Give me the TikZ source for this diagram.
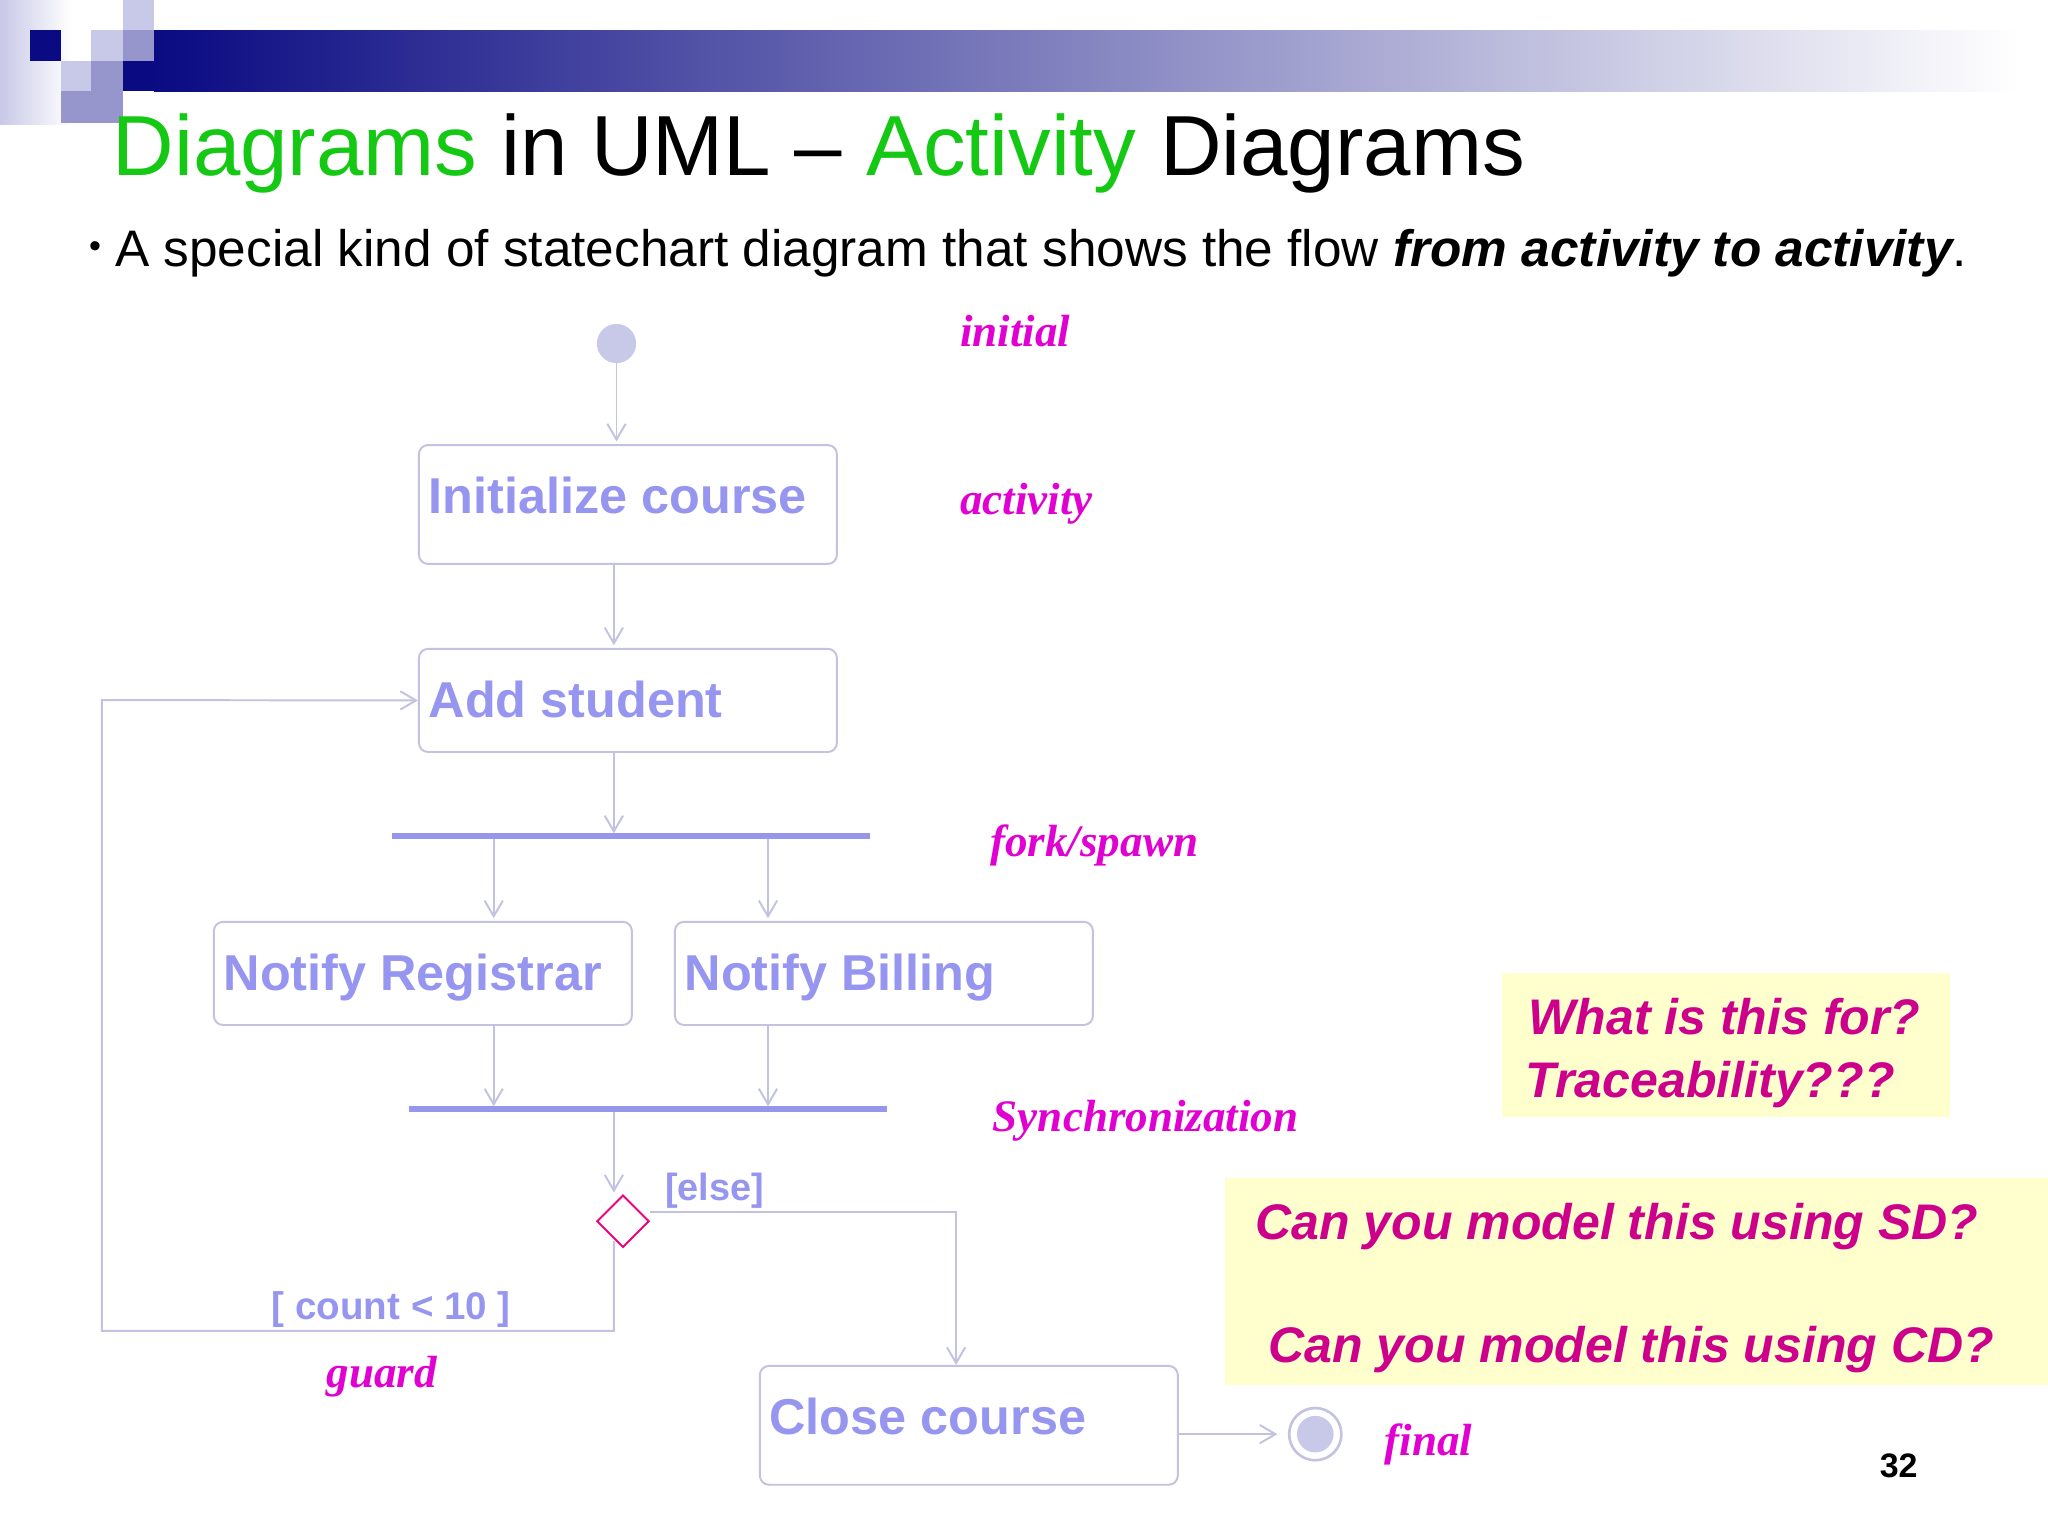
\documentclass[tikz,border=0pt]{standalone}
\usepackage{fontspec}
\setmainfont{Liberation Sans}
\newfontfamily\serifit{Liberation Serif}
\usetikzlibrary{arrows.meta,shapes.geometric}
\definecolor{navy}{RGB}{10,10,130}
\definecolor{lite}{RGB}{200,200,232}
\definecolor{med}{RGB}{150,150,205}
\definecolor{ttl}{RGB}{20,200,20}
\definecolor{conn}{RGB}{195,195,225}
\definecolor{boxtxt}{RGB}{150,150,240}
\definecolor{barc}{RGB}{150,150,235}
\definecolor{lab}{RGB}{225,0,210}
\definecolor{qtxt}{RGB}{205,0,140}
\definecolor{yel}{RGB}{255,255,205}
\newcommand{\fs}[1]{\fontsize{#1}{#1}\selectfont}
\tikzset{
 act/.style={draw=conn,line width=1.5pt,rounded corners=7pt,anchor=north west,inner sep=0pt,text=boxtxt,font=\fs{38}\bfseries},
 acttxt/.style={text=boxtxt,font=\fs{38.6}\bfseries,anchor=base west,inner sep=0pt},
 flow/.style={draw=conn,line width=1.5pt,-{Straight Barb[length=12pt,width=14pt,line width=1.5pt]}},
 lbl/.style={text=lab,font=\serifit\fs{34.5}\bfseries\itshape,anchor=base west,inner sep=0pt},
 ques/.style={text=qtxt,font=\fs{38.3}\bfseries\itshape,anchor=base west,inner sep=0pt},
 bar/.style={draw=barc,line width=5pt},
}
\begin{document}
\begin{tikzpicture}[x=1pt,y=-1pt]
\useasboundingbox (0,0) rectangle (1568,1176);
\fill[white] (0,0) rectangle (1568,1176);
% header decoration
\shade[left color=lite,right color=white] (0,0) rectangle (55,95);
\shade[left color=navy,right color=white] (118,23) rectangle (1545,70);
\fill[lite] (94,0) rectangle (118,23);
\fill[lite] (70,23) rectangle (94,47);
\fill[lite] (47,47) rectangle (70,70);
\fill[med] (94,23) rectangle (118,47);
\fill[med] (70,47) rectangle (94,70);
\fill[med] (47,70) rectangle (94,94);
\fill[navy] (23,23) rectangle (47,47);
\fill[navy] (94,47) rectangle (118,70);
% title
\node[anchor=base west,inner sep=0pt,font=\fs{65.3}] (title) at (86,134) {\textcolor{ttl}{Diagrams} in UML -- \textcolor{ttl}{Activity} Diagrams};
\node[anchor=base west,inner sep=0pt] (bullet) at (68,204) {\fs{26}\raisebox{7pt}{\textbullet}\fs{39.3}\ A special kind of statechart diagram that shows the flow \textbf{\itshape from activity to activity}.};
% nodes
\fill[lite] (472,263) circle (15);
\coordinate (init) at (472,278);
\node[act,minimum width=320pt,minimum height=91pt] (ic) at (320,340) {};
\node[acttxt] (ict) at (328,393) {Initialize course};
\node[act,minimum width=320pt,minimum height=79pt] (as) at (320,496) {};
\node[acttxt] (ast) at (328,549) {Add student};
\draw[bar] (300,640) -- (666,640);
\node[act,minimum width=320pt,minimum height=79pt] (nr) at (163,705) {};
\node[acttxt] (nrt) at (171,758) {Notify Registrar};
\node[act,minimum width=320pt,minimum height=79pt] (nb) at (516,705) {};
\node[acttxt] (nbt) at (524,758) {Notify Billing};
\draw[bar] (313,849) -- (679,849);
\node[diamond,draw=magenta!85!red,line width=1.5pt,minimum width=40pt,minimum height=40pt,inner sep=0pt] (dec) at (477,935) {};
\node[act,minimum width=320pt,minimum height=91pt] (cc) at (581,1045) {};
\node[acttxt] (cct) at (589,1098) {Close course};
\draw[conn,line width=2pt] (1007,1098) circle (20);
\fill[lite] (1007,1098) circle (14);
% connectors
\draw[flow] (init) -- (472,338);
\draw[flow] (470,431) -- (470,494);
\draw[flow] (470,575) -- (470,638);
\draw[flow] (378,642) -- (378,703);
\draw[flow] (588,642) -- (588,703);
\draw[flow] (378,784) -- (378,847);
\draw[flow] (588,784) -- (588,847);
\draw[flow] (470,851) -- (470,913);
\draw[flow] (470,950) -- (470,1019) -- (78,1019) -- (78,536) -- (as.west);
\draw[flow] (dec.east) ++(0,-7) -- (732,928) -- (cc.north -| 732,0);
\draw[flow] (901,1098) -- (978,1098);
\node[text=boxtxt,font=\fs{29}\bfseries,anchor=base west,inner sep=0pt] (else) at (509,919) {[else]};
\node[text=boxtxt,font=\fs{29.5}\bfseries,anchor=base west,inner sep=0pt] (cnt) at (208,1010) {[ count < 10 ]};
% labels
\node[lbl] (l1) at (735,265) {initial};
\node[lbl] (l2) at (735,394) {activity};
\node[lbl] (l3) at (758,656) {fork/spawn};
\node[lbl] (l4) at (760,866) {Synchronization};
\node[lbl] (l5) at (250,1062) {guard};
\node[lbl] (l6) at (1060,1114) {final};
% yellow boxes
\fill[yel] (1150,745) rectangle (1493,855);
\node[ques] (q1) at (1170,792) {What is this for?};
\node[ques] (q2) at (1168,840) {Traceability???};
\fill[yel] (938,902) rectangle (1568,1060);
\node[ques] (q3) at (961,949) {Can you model this using SD?};
\node[ques] (q4) at (971,1043) {Can you model this using CD?};
\node[anchor=base west,inner sep=0pt,font=\fs{26}\bfseries] (pg) at (1439,1131) {32};
\end{tikzpicture}
\end{document}
